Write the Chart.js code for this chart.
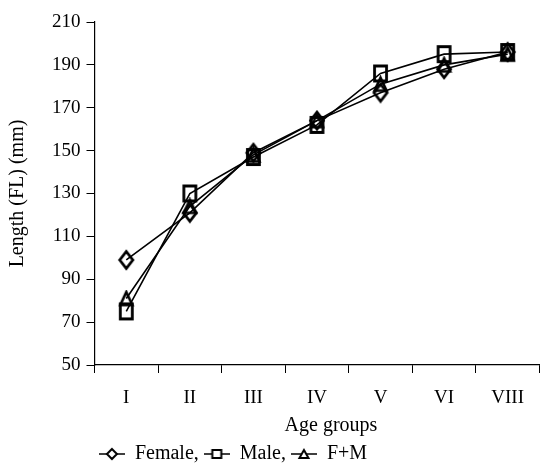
<!DOCTYPE html>
<html><head><meta charset="utf-8">
<script src="https://cdn.jsdelivr.net/npm/chart.js@4/dist/chart.umd.min.js"></script>
<style>html,body{margin:0;padding:0;background:#fff}#wrap{width:540px;height:474px}</style>
</head><body><div id="wrap"><canvas id="c"></canvas></div>
<script>
const categories = ['I','II','III','IV','V','VI','VIII'];
const female = [99, 121, 149, 164, 177, 188, 196];
const male = [75, 130, 147, 162, 186, 195, 196];
const fm = [81, 124, 148, 164, 181, 190, 195];
const seriesNames = ['Female,', 'Male,', 'F+M'];
const yTicks = {min: 50, max: 210, step: 20};

const FONT = "'Liberation Serif', 'Times New Roman', serif";

function markerPath(g, style, cx, cy, w, h) {
  g.beginPath();
  if (style === 'diamond') { g.moveTo(cx, cy - h/2); g.lineTo(cx + w/2, cy); g.lineTo(cx, cy + h/2); g.lineTo(cx - w/2, cy); g.closePath(); }
  else if (style === 'square') { g.rect(cx - w/2, cy - h/2, w, h); }
  else { g.moveTo(cx, cy - h/2); g.lineTo(cx + w/2, cy + h/2); g.lineTo(cx - w/2, cy + h/2); g.closePath(); }
}

function pointImage(style, w, h, lw) {
  const c = document.createElement('canvas');
  c.width = Math.ceil(w + lw + 2); c.height = Math.ceil(h + lw + 2);
  const g = c.getContext('2d');
  g.strokeStyle = '#000'; g.lineWidth = lw; g.lineJoin = 'miter';
  markerPath(g, style, c.width/2, c.height/2, w, h);
  g.stroke();
  return c;
}

function legendIcon(style) {
  const c = document.createElement('canvas');
  c.width = 26; c.height = 14;
  const g = c.getContext('2d');
  g.strokeStyle = '#000'; g.lineWidth = 1.5;
  g.beginPath(); g.moveTo(0,7); g.lineTo(26,7); g.stroke();
  g.lineWidth = 2;
  g.fillStyle = '#fff';
  if (style === 'diamond') markerPath(g, style, 13, 7, 10, 10);
  else if (style === 'square') markerPath(g, style, 13, 7, 9, 8);
  else markerPath(g, style, 13, 7, 9, 8);
  g.fill(); g.stroke();
  return c;
}

const legendShift = {
  id: 'legendShift',
  afterLayout(chart) {
    const l = chart.legend;
    if (l) { l.left -= 40; l.right -= 40; }
    const xs = chart.scales.x;
    if (xs && !xs._titleShifted) {
      const orig = xs.drawTitle;
      xs.drawTitle = function () {
        const ctx = this.ctx; ctx.save(); ctx.translate(14, 0); orig.apply(this, arguments); ctx.restore();
      };
      xs._titleShifted = true;
    }
  }
};

const styles = ['diamond','square','triangle'];
const images = [pointImage('diamond', 13, 17, 2.8), pointImage('square', 12, 15, 2.8), pointImage('triangle', 12, 13, 2.6)];
const datasets = [female, male, fm].map((d,i) => ({
  label: seriesNames[i],
  data: d,
  borderColor: '#000',
  backgroundColor: 'rgba(0,0,0,0)',
  borderWidth: 1.6,
  pointStyle: images[i],
  pointRadius: 7,
  tension: 0,
  order: 3 - i
}));

new Chart(document.getElementById('c'), {
  type: 'line',
  data: { labels: categories, datasets },
  plugins: [legendShift],
  options: {
    responsive: true, maintainAspectRatio: false, animation: false,
    layout: { autoPadding: false, padding: { top: 22, right: 0, left: 6, bottom: 0 } },
    plugins: {
      tooltip: { enabled: false },
      legend: {
        position: 'bottom',
        labels: {
          color: '#000',
          font: { family: FONT, size: 20 },
          usePointStyle: true,
          pointStyleWidth: 26,
          boxHeight: 14,
          padding: 5,
          generateLabels: (chart) => chart.data.datasets.map((ds, i) => ({
            text: ds.label, pointStyle: legendIcon(styles[i]), datasetIndex: i,
            fontColor: '#000', lineWidth: 0, strokeStyle: 'transparent', fillStyle: 'transparent'
          }))
        }
      }
    },
    scales: {
      x: {
        offset: true,
        afterFit: (s) => { s.height -= 8; },
        grid: { display: true, offset: true, drawOnChartArea: false, tickLength: 8, color: '#000', lineWidth: 1 },
        border: { display: true, color: '#000', width: 1.2 },
        ticks: { color: '#000', font: { family: FONT, size: 19, lineHeight: 1 }, padding: 16 },
        title: { display: true, text: 'Age groups', color: '#000', font: { family: FONT, size: 20, lineHeight: 1 }, padding: { top: 0, bottom: 3 } }
      },
      y: {
        min: yTicks.min, max: yTicks.max,
        grid: { display: true, drawOnChartArea: false, tickLength: 8, color: '#000', lineWidth: 1 },
        border: { display: true, color: '#000', width: 1.2 },
        ticks: { stepSize: yTicks.step, color: '#000', font: { family: FONT, size: 19 }, padding: 6 },
        title: { display: true, text: 'Length (FL) (mm)', color: '#000', font: { family: FONT, size: 20 }, padding: { top: 0, bottom: 16 } }
      }
    }
  }
});
</script></body></html>
